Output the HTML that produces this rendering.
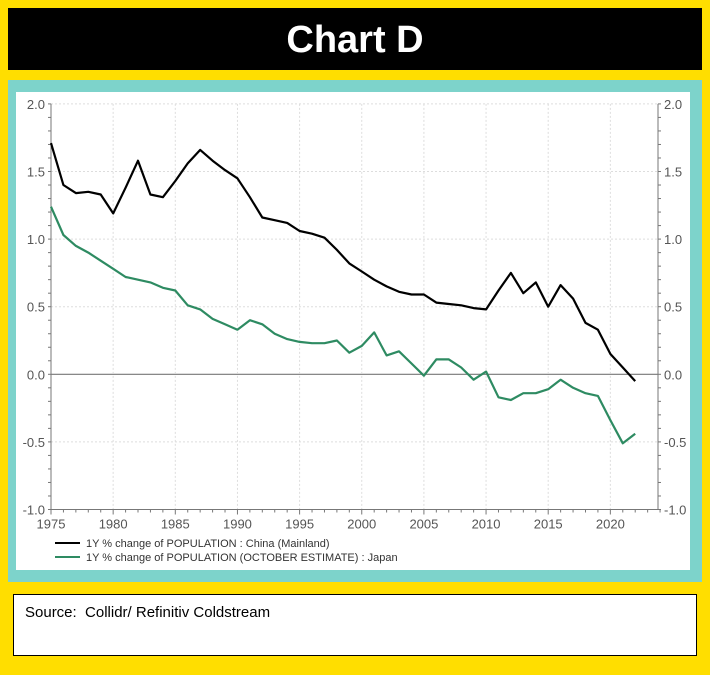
<!DOCTYPE html>
<html><head><meta charset="utf-8"><style>
html,body{margin:0;padding:0}
body{width:710px;height:675px;background:#FFDE00;position:relative;overflow:hidden;font-family:"Liberation Sans",sans-serif}
#title{position:absolute;left:8px;top:8px;width:694px;height:62px;background:#000;color:#fff;font-size:38px;font-weight:bold;text-align:center;line-height:64px}
#frame{position:absolute;left:8px;top:80px;width:694px;height:502px;background:#7DD3CB}
#inner{position:absolute;left:16px;top:92px;width:674px;height:478px;background:#fff}
#src{position:absolute;left:13px;top:594px;width:682px;height:60px;background:#fff;border:1px solid #000;font-size:15px}
#src span{position:absolute;left:11px;top:9px}
svg{position:absolute;left:0;top:0}
</style></head><body>
<div id="title">Chart D</div>
<div id="frame"></div>
<div id="inner"></div>
<svg id="chart" width="710" height="675"></svg>
<div id="src"><span>Source:&nbsp; Collidr/ Refinitiv Coldstream</span></div>
<script>
const years=[];for(let y=1975;y<=2022;y++)years.push(y);
const china=[1.71,1.40,1.34,1.35,1.33,1.19,1.38,1.58,1.33,1.31,1.43,1.56,1.66,1.58,1.51,1.45,1.31,1.16,1.14,1.12,1.06,1.04,1.01,0.92,0.82,0.76,0.70,0.65,0.61,0.59,0.59,0.53,0.52,0.51,0.49,0.48,0.62,0.75,0.60,0.68,0.50,0.66,0.56,0.38,0.33,0.15,0.05,-0.05];
const japan=[1.24,1.03,0.95,0.90,0.84,0.78,0.72,0.70,0.68,0.64,0.62,0.51,0.48,0.41,0.37,0.33,0.40,0.37,0.30,0.26,0.24,0.23,0.23,0.25,0.16,0.21,0.31,0.14,0.17,0.08,-0.01,0.11,0.11,0.05,-0.04,0.02,-0.17,-0.19,-0.14,-0.14,-0.11,-0.04,-0.10,-0.14,-0.16,-0.34,-0.51,-0.44];
const yTicks=[2.0,1.5,1.0,0.5,0.0,-0.5,-1.0];
const xTicks=[1975,1980,1985,1990,1995,2000,2005,2010,2015,2020];
const NS='http://www.w3.org/2000/svg';
const svg=document.getElementById('chart');
const X0=51,PX=12.43,Y0=374.3,PY=135.2,XR=658;
const xs=v=>X0+(v-1975)*PX, ys=v=>Y0-v*PY;
function mk(t,a){const e=document.createElementNS(NS,t);for(const k in a)e.setAttribute(k,a[k]);svg.appendChild(e);return e;}
// grid
for(const t of yTicks){const g=mk('line',{x1:X0,x2:XR,y1:ys(t),y2:ys(t),stroke:t===0?'#777':'#ddd','stroke-width':t===0?1.2:1,'stroke-dasharray':t===0?'':'2,2'});


const l=mk('text',{x:X0-6,y:ys(t)+5,'text-anchor':'end','font-size':13,fill:'#555'});l.textContent=t.toFixed(1);


const r=mk('text',{x:XR+6,y:ys(t)+5,'font-size':13,fill:'#555'});r.textContent=t.toFixed(1);

}
for(const t of xTicks){if(t>1975){const g=mk('line',{x1:xs(t),x2:xs(t),y1:ys(2),y2:ys(-1),stroke:'#ddd','stroke-dasharray':'2,2'});

}
const l=mk('text',{x:xs(t),y:ys(-1)+19,'text-anchor':'middle','font-size':13,fill:'#555'});l.textContent=t;

}
// minor ticks
for(let y=1975;y<=2024;y++){const m=mk('line',{x1:xs(y),x2:xs(y),y1:ys(-1),y2:ys(-1)+(y%5?3:5),stroke:'#777'});

}
for(let v=-1;v<=2.001;v+=0.1){const a=mk('line',{x1:X0-3,x2:X0,y1:ys(v),y2:ys(v),stroke:'#777'});


const b=mk('line',{x1:XR,x2:XR+3,y1:ys(v),y2:ys(v),stroke:'#777'});

}
const ax=mk('path',{d:`M${X0},${ys(2)}V${ys(-1)}H${XR}V${ys(2)}`,fill:'none',stroke:'#777'});


function series(arr,col,name){const d=arr.map((v,i)=>(i?'L':'M')+xs(years[i]).toFixed(1)+','+ys(v).toFixed(1)).join('');
const p=mk('path',{d,fill:'none',stroke:col,'stroke-width':2.2,'stroke-linejoin':'round'});

}
series(japan,'#2E8B62','japan-line');
series(china,'#000','china-line');
const leg=[['#000','1Y % change of POPULATION : China (Mainland)','legend-entry-china'],['#2E8B62','1Y % change of POPULATION (OCTOBER ESTIMATE) : Japan','legend-entry-japan']];
leg.forEach((e,i)=>{const y=543+i*14;const l=mk('line',{x1:55,x2:80,y1:y,y2:y,stroke:e[0],'stroke-width':2});


const t=mk('text',{x:86,y:y+4,'font-size':11,fill:'#333'});t.textContent=e[1];

});
</script>
</body></html>
